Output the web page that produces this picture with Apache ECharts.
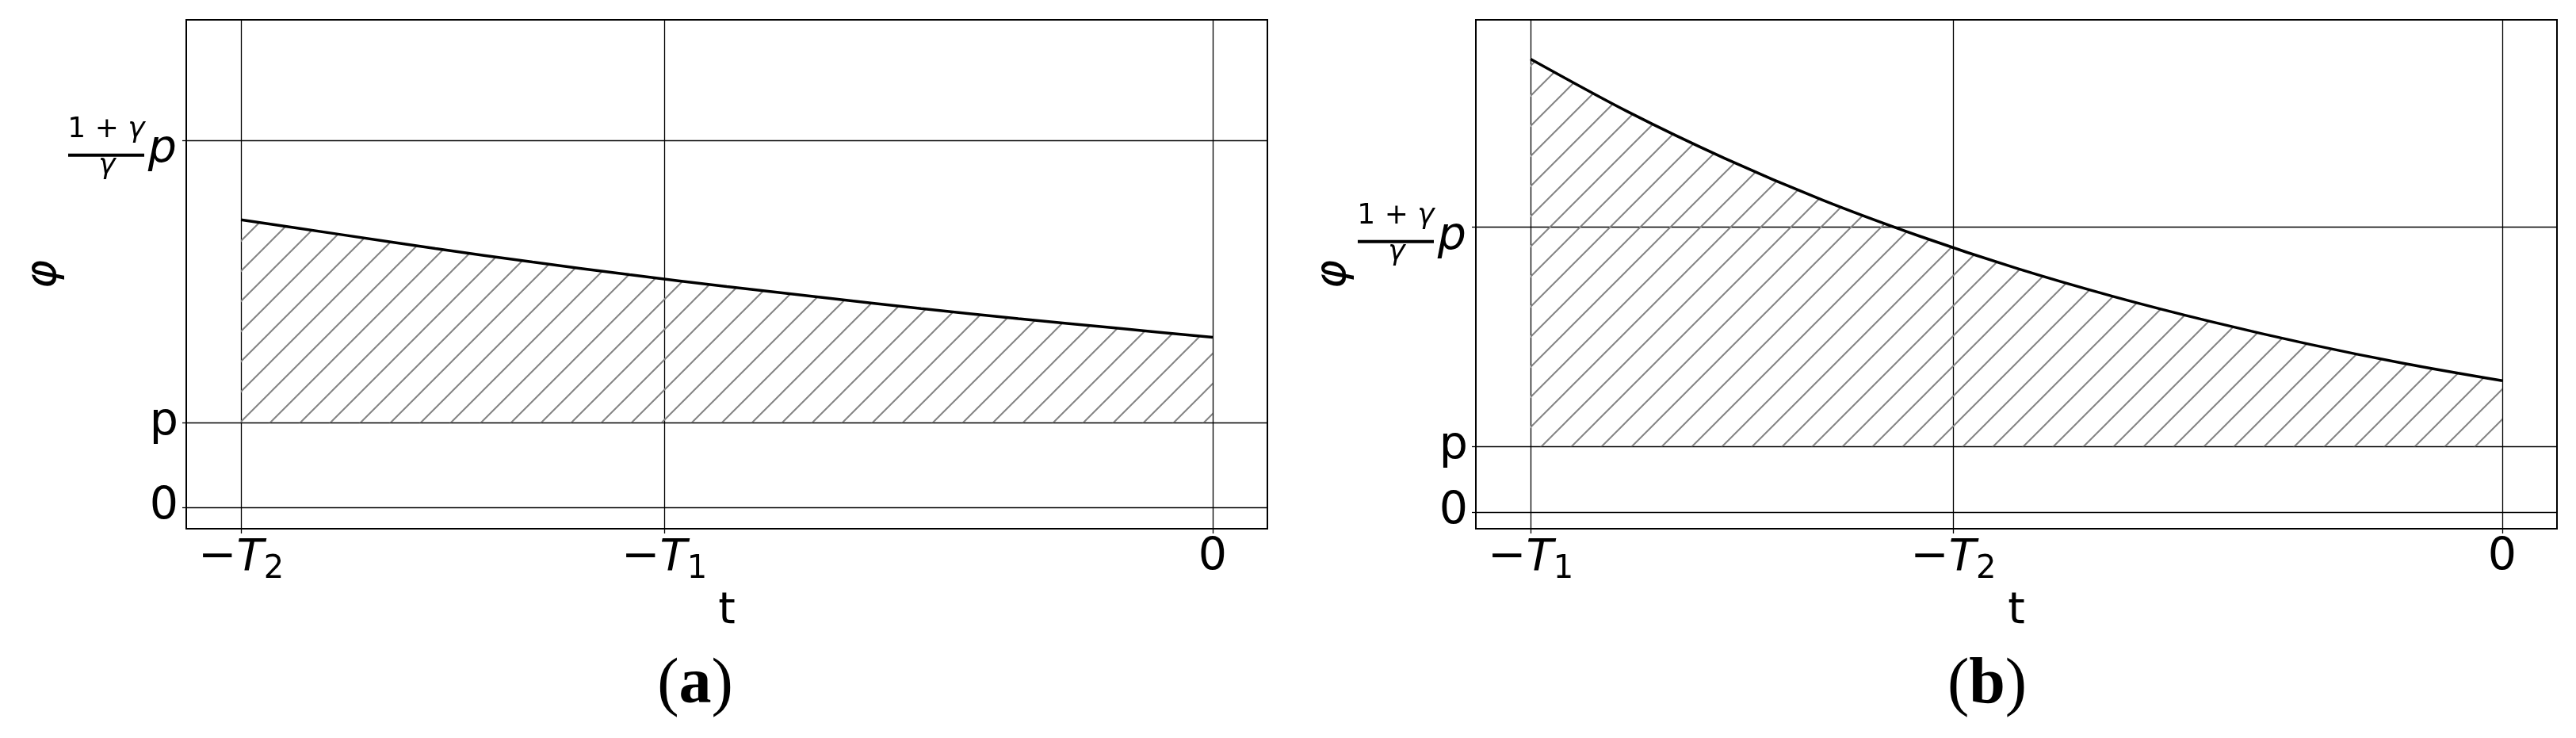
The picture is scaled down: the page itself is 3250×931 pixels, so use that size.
<!DOCTYPE html>
<html><head><meta charset="utf-8">
<script src="https://cdn.jsdelivr.net/npm/echarts@6/dist/echarts.min.js"></script>
<style>html,body{margin:0;padding:0;background:#fff}#c{width:3250px;height:931px}</style>
</head><body><div id="c"></div>
<script>
// ---- data ----
const tA = [-10, -9, -8, -7, -6, -5, -4, -3, -2, -1, 0];
const phiA = [3.40, 3.23, 3.06, 2.90, 2.75, 2.61, 2.48, 2.35, 2.23, 2.12, 2.01];
const tB = [-10, -9, -8, -7, -6, -5, -4, -3, -2, -1, 0];
const phiB = [6.89, 6.09, 5.38, 4.75, 4.20, 3.71, 3.28, 2.90, 2.56, 2.26, 2.00];
const pLevel = 1;
const xTicksA = [-10, -5.644, 0];
const xTickLabelsA = ['-T_2', '-T_1', '0'];
const xTicksB = [-10, -5.65, 0];
const xTickLabelsB = ['-T_1', '-T_2', '0'];
const yTicks = [0, 1, 4.333];
const yTickLabels = ['0', 'p', 'FRAC'];
const fracNum = '1 + ', fracNumGreek = 'γ', fracDen = 'γ', fracP = 'p';
const xName = 't', yName = 'φ';
const captions = [['(', 'a', ')'], ['(', 'b', ')']];

// ---- styling ----
const FONT = 'DejaVu Sans';
const BLACK = '#000';
const grids = [
  {left: 235, top: 25, width: 1364, height: 642},
  {left: 1862, top: 25, width: 1364, height: 642}
];
const yRanges = [[-0.253, 5.764], [-0.249, 7.486]];
const xRange = [-10.563, 0.563];

function hatchCanvas() {
  const S = 38, c = document.createElement('canvas');
  c.width = S; c.height = S;
  const g = c.getContext('2d');
  g.strokeStyle = '#858585'; g.lineWidth = 2;
  g.beginPath();
  for (let k = 0; k <= 2; k++) {
    g.moveTo(-3, k * S + 3);
    g.lineTo(S + 3, k * S - S - 3);
  }
  g.stroke();
  return c;
}
const hatch = {image: hatchCanvas(), repeat: 'repeat'};

function idxOf(arr, v) {
  let best = 0, d = Infinity;
  arr.forEach((a, i) => { if (Math.abs(a - v) < d) { d = Math.abs(a - v); best = i; } });
  return best;
}
function xLabelRich(s) {
  const m = /^-(\w)_(\w)$/.exec(s);
  if (m) return '{m|−}{i|' + m[1] + '}{s|' + m[2] + '}';
  return '{n|' + s + '}';
}
const xRich = {
  m: {fontFamily: FONT, fontSize: 58, lineHeight: 70, color: BLACK},
  i: {fontFamily: FONT, fontStyle: 'italic', fontSize: 56, lineHeight: 70, color: BLACK},
  s: {fontFamily: FONT, fontSize: 40, lineHeight: 40, padding: [30, 0, 0, 0], color: BLACK},
  n: {fontFamily: FONT, fontSize: 57, lineHeight: 70, color: BLACK}
};

function makeX(gi, ticks, labels) {
  return {
    type: 'value', gridIndex: gi, min: xRange[0], max: xRange[1],
    axisLine: {show: true, onZero: false, lineStyle: {color: BLACK, width: 2}},
    axisTick: {show: true, inside: false, length: 6, customValues: ticks, lineStyle: {color: BLACK, width: 1.3}},
    axisLabel: {customValues: ticks, margin: 2, formatter: v => xLabelRich(labels[idxOf(ticks, v)]), rich: xRich, hideOverlap: false},
    splitLine: {show: true, lineStyle: {color: BLACK, width: 1.3}},
    name: xName, nameLocation: 'middle', nameGap: 70,
    nameTextStyle: {fontFamily: FONT, fontSize: 55, color: BLACK}
  };
}
function makeY(gi) {
  return {
    type: 'value', gridIndex: gi, min: yRanges[gi][0], max: yRanges[gi][1],
    axisLine: {show: true, onZero: false, lineStyle: {color: BLACK, width: 2}},
    axisTick: {show: true, inside: false, length: 5, customValues: yTicks, lineStyle: {color: BLACK, width: 1.3}},
    axisLabel: {customValues: yTicks, margin: 10, fontFamily: FONT, fontSize: 57, color: BLACK, hideOverlap: false,
      formatter: v => { const l = yTickLabels[idxOf(yTicks, v)]; return l === 'FRAC' ? '' : l; }},
    splitLine: {show: true, lineStyle: {color: BLACK, width: 1.3}},
    name: yName, nameLocation: 'middle', nameGap: 152, nameRotate: 90,
    nameTextStyle: {fontFamily: FONT, fontStyle: 'italic', fontSize: 55, color: BLACK}
  };
}
function panelSeries(gi, ts, phis) {
  return [
    {type: 'line', xAxisIndex: gi, yAxisIndex: gi, silent: true, symbol: 'none',
     smooth: 0.3,
     lineStyle: {color: BLACK, width: 3.5},
     areaStyle: {color: hatch, opacity: 1, origin: pLevel},
     data: ts.map((t, i) => [t, phis[i]])}
  ];
}

const chart = echarts.init(document.getElementById('c'), null, {renderer: 'canvas'});
chart.setOption({
  animation: false,
  backgroundColor: '#fff',
  grid: grids.map(g => Object.assign({show: true, borderColor: BLACK, borderWidth: 2, containLabel: false, outerBoundsMode: 'none'}, g)),
  xAxis: [makeX(0, xTicksA, xTickLabelsA), makeX(1, xTicksB, xTickLabelsB)],
  yAxis: [makeY(0), makeY(1)],
  series: [].concat(panelSeries(0, tA, phiA), panelSeries(1, tB, phiB))
});

// fraction label (1+γ)/γ p at the top tick, and panel captions
const fracTick = yTicks[yTickLabels.indexOf('FRAC')];
const gfx = [];
grids.forEach((g, gi) => {
  const y0 = chart.convertToPixel({yAxisIndex: gi}, fracTick);
  const xr = g.left - 12;
  gfx.push({type: 'text', x: xr, y: y0 + 12, style: {text: fracP, fontFamily: FONT, fontStyle: 'italic', fontSize: 57, fill: BLACK, align: 'right', verticalAlign: 'middle'}});
  gfx.push({type: 'rect', shape: {x: xr - 137, y: y0 + 16, width: 96, height: 4}, style: {fill: BLACK}});
  gfx.push({type: 'text', x: xr - 89, y: y0 - 14, style: {text: '{r|' + fracNum + '}{i|' + fracNumGreek + '}', align: 'center', verticalAlign: 'middle',
    rich: {r: {fontFamily: FONT, fontSize: 36, fill: BLACK}, i: {fontFamily: FONT, fontStyle: 'italic', fontSize: 36, fill: BLACK}}}});
  gfx.push({type: 'text', x: xr - 88, y: y0 + 32, style: {text: fracDen, fontFamily: FONT, fontStyle: 'italic', fontSize: 36, fill: BLACK, align: 'center', verticalAlign: 'middle'}});
});
const capX = [877, 2507];
captions.forEach((c, i) => {
  gfx.push({type: 'text', x: capX[i], y: 865, style: {
    text: '{p|' + c[0] + '}{b|' + c[1] + '}{p|' + c[2] + '}', align: 'center', verticalAlign: 'middle',
    rich: {p: {fontFamily: 'Liberation Serif', fontSize: 82, fill: BLACK}, b: {fontFamily: 'Liberation Serif', fontWeight: 'bold', fontSize: 82, fill: BLACK}}}});
});
chart.setOption({graphic: gfx});
</script>
</body></html>
